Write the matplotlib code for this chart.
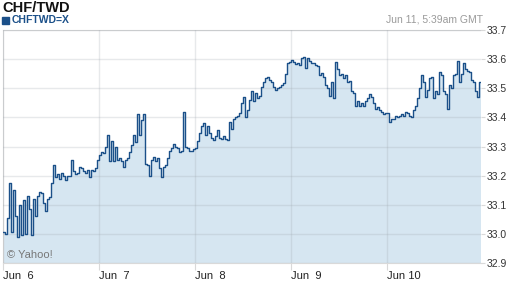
import matplotlib

matplotlib.use("Agg")

import matplotlib.pyplot as plt
import matplotlib.ticker as mticker
import pandas as pd

TITLE = "CHF/TWD"
SYMBOL = "CHFTWD=X"
STAMP = "Jun 11, 5:39am GMT"
START = "2013-06-06 00:00"
FREQ = "30min"

# half-hourly quotes
RATES = [
    33.005, 33.000, 33.055, 33.175, 33.005, 33.150, 33.060, 32.990, 33.100, 32.995,
    33.115, 33.000, 33.130, 33.085, 32.995, 33.120, 33.060, 33.130, 33.145, 33.140,
    33.105, 33.080, 33.120, 33.125, 33.175, 33.235, 33.195, 33.205, 33.190, 33.210,
    33.200, 33.185, 33.200, 33.200, 33.255, 33.215, 33.205, 33.210, 33.230, 33.225,
    33.215, 33.210, 33.220, 33.195, 33.220, 33.215, 33.225, 33.255, 33.270,
    33.280, 33.278, 33.300, 33.340, 33.250, 33.320, 33.250, 33.300, 33.255, 33.260,
    33.250, 33.230, 33.255, 33.262, 33.280, 33.305, 33.340, 33.315, 33.410, 33.340,
    33.390, 33.410, 33.240, 33.235, 33.200, 33.255, 33.265, 33.250, 33.262, 33.225,
    33.195, 33.230, 33.235, 33.260, 33.285, 33.295, 33.310, 33.300, 33.295, 33.280,
    33.285, 33.420, 33.300, 33.295, 33.285, 33.283, 33.290, 33.295, 33.318, 33.345,
    33.370, 33.380, 33.340, 33.370, 33.345, 33.330, 33.322, 33.335, 33.355, 33.330,
    33.325, 33.335, 33.325, 33.322, 33.385, 33.360, 33.395, 33.400, 33.405, 33.415,
    33.450, 33.470, 33.400, 33.425, 33.460, 33.490, 33.455, 33.485, 33.465, 33.475,
    33.505, 33.520, 33.535, 33.540, 33.530, 33.520, 33.505, 33.495, 33.500, 33.505,
    33.510, 33.518, 33.550, 33.585, 33.590,
    33.597, 33.590, 33.582, 33.587, 33.580, 33.603, 33.607, 33.570, 33.605, 33.595,
    33.587, 33.587, 33.580, 33.578, 33.545, 33.552, 33.540, 33.510, 33.500, 33.475,
    33.520, 33.465, 33.590, 33.565, 33.545, 33.550, 33.535, 33.545, 33.520, 33.525,
    33.490, 33.485, 33.440, 33.455, 33.440, 33.450, 33.440, 33.455, 33.465, 33.480,
    33.470, 33.450, 33.430, 33.435, 33.425, 33.420, 33.410, 33.415, 33.415, 33.385,
    33.395, 33.395, 33.405, 33.400, 33.405, 33.410, 33.405, 33.420, 33.415, 33.405,
    33.400, 33.425, 33.440, 33.465, 33.500, 33.545, 33.520, 33.470, 33.495, 33.535,
    33.540, 33.465, 33.490, 33.480, 33.555, 33.545, 33.490, 33.480, 33.430, 33.510,
    33.500, 33.545, 33.550, 33.595, 33.520, 33.550, 33.585, 33.565, 33.560, 33.555,
    33.530, 33.520, 33.490, 33.470, 33.520, 33.520,
]

DAY_TICKS = ["2013-06-06", "2013-06-07", "2013-06-08", "2013-06-09", "2013-06-10"]
DAY_LABELS = ["Jun  6", "Jun  7", "Jun  8", "Jun  9", "Jun 10"]
Y_TICKS = [32.9, 33.0, 33.1, 33.2, 33.3, 33.4, 33.5, 33.6, 33.7]

LINE_COLOR = "#1b5089"
FILL_COLOR = "#d6e6f1"
EDGE_COLOR = "#d9d9d9"


def draw():
    plt.rcParams["font.family"] = ["Liberation Sans", "DejaVu Sans"]
    times = pd.date_range(START, periods=len(RATES), freq=FREQ)
    rates = pd.Series(RATES, index=times)

    fig = plt.figure(figsize=(5.12, 2.88), dpi=100)
    ax = fig.add_axes([3 / 512, 25 / 288, 478 / 512, 233 / 288])

    ax.fill_between(rates.index, rates.values, Y_TICKS[0], step="post",
                    color=FILL_COLOR, linewidth=0, zorder=1)
    ax.plot(rates.index, rates.values, drawstyle="steps-post",
            color=LINE_COLOR, linewidth=1.0, zorder=3)

    ax.set_xlim(times[0], times[-1])
    ax.set_ylim(Y_TICKS[0], Y_TICKS[-1])

    ax.set_xticks(pd.to_datetime(DAY_TICKS))
    ax.set_xticklabels(DAY_LABELS, fontsize=8, color="#222222", ha="left")
    ax.set_yticks(Y_TICKS)
    ax.yaxis.set_major_formatter(mticker.FormatStrFormatter("%.1f"))
    ax.yaxis.tick_right()
    ax.tick_params(axis="y", labelsize=7.5, labelcolor="#333333", length=3,
                   width=0.8, color=EDGE_COLOR, pad=1)
    ax.tick_params(axis="x", length=5, width=0.8, color=EDGE_COLOR, pad=1)

    ax.grid(True, color="#a0a8b0", alpha=0.25, linewidth=1.0, zorder=2)
    ax.set_axisbelow(False)

    for side in ["left", "top", "bottom"]:
        ax.spines[side].set_color(EDGE_COLOR)
        ax.spines[side].set_linewidth(0.8)
    ax.spines["right"].set_visible(False)

    ax.text(0.009, 0.02, "\u00a9 Yahoo!", transform=ax.transAxes,
            fontsize=8, color="#777777", ha="left", va="baseline", zorder=4)

    fig.text(2 / 512, 1 - 8 / 288, TITLE, fontsize=10.5, fontweight="bold",
             color="#111111", ha="left", va="center")
    fig.patches.append(plt.Rectangle((2 / 512, 1 - 24 / 288), 7 / 512, 7 / 288,
                                     transform=fig.transFigure, color=LINE_COLOR))
    fig.text(12 / 512, 1 - 20 / 288, SYMBOL, fontsize=7.5, fontweight="bold",
             color=LINE_COLOR, ha="left", va="center")
    fig.text(483 / 512, 1 - 19 / 288, STAMP, fontsize=7.5, color="#9a9a9a",
             ha="right", va="center")

    fig.savefig("out.png", dpi=100)
    plt.close(fig)


if __name__ == "__main__":
    draw()
